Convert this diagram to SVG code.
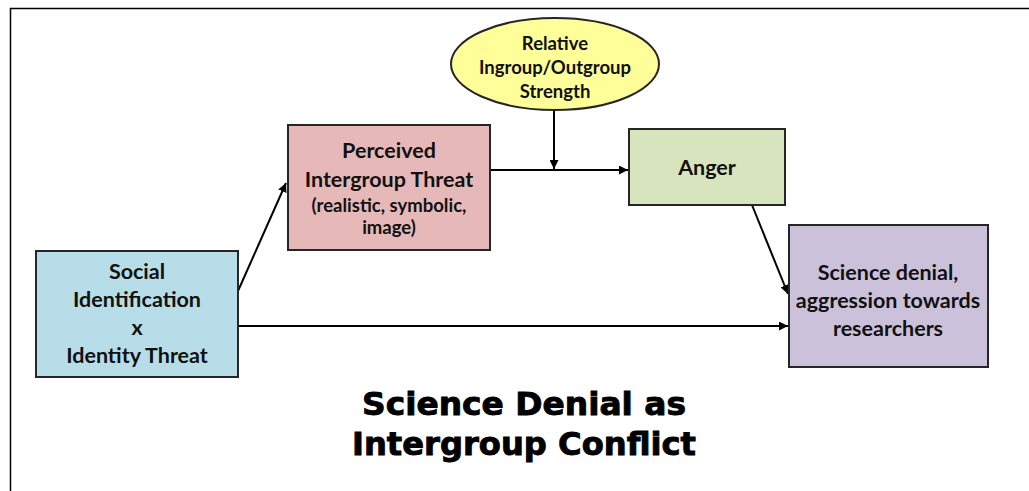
<svg xmlns="http://www.w3.org/2000/svg" width="1029" height="491" viewBox="0 0 1029 491">
<style>
.box{stroke:#262626;stroke-width:2}
.t{font-family:Lato,"Liberation Sans",sans-serif;font-weight:bold;fill:#111;text-anchor:middle}
.c{stroke:#000;stroke-width:2;fill:none}
.title{font-family:"DejaVu Sans","Liberation Sans",sans-serif;font-weight:bold;font-size:32px;fill:#000;stroke:#000;stroke-width:0.9;text-anchor:middle}
</style>
<defs>
<marker id="ah" viewBox="0 0 10 10" refX="10" refY="5" markerWidth="4.5" markerHeight="4.5" orient="auto" markerUnits="strokeWidth">
<path d="M0,0 L10,5 L0,10 z" fill="#000"/>
</marker>
</defs>
<rect x="0" y="0" width="1029" height="491" fill="#fff"/>
<path d="M10.5,491 V8.5 H1029" fill="none" stroke="#000" stroke-width="1.5"/>
<g id="connectors">
<line class="c" x1="238" y1="291" x2="286" y2="183" marker-end="url(#ah)"/>
<line class="c" x1="490" y1="170" x2="628" y2="170" marker-end="url(#ah)"/>
<line class="c" x1="554" y1="110" x2="554" y2="169" stroke-width="1.6" marker-end="url(#ah)"/>
<line class="c" x1="752" y1="205" x2="788" y2="294" marker-end="url(#ah)"/>
<line class="c" x1="238" y1="326" x2="788" y2="326" marker-end="url(#ah)"/>
</g>
<g id="node-social">
<rect class="box" x="36" y="251" width="202" height="126" fill="#b7dde8"/>
<text class="t" font-size="21.5" x="137" y="279">Social</text>
<text class="t" font-size="21.5" x="137" y="307">Identification</text>
<text class="t" font-size="21.5" x="137" y="335">x</text>
<text class="t" font-size="21.5" x="137" y="363">Identity Threat</text>
</g>
<g id="node-threat">
<rect class="box" x="288" y="125" width="202" height="125" fill="#e6b9b8"/>
<text class="t" font-size="21.5" x="389" y="158">Perceived</text>
<text class="t" font-size="21.5" x="389" y="187">Intergroup Threat</text>
<text class="t" font-size="18.5" x="389" y="212">(realistic, symbolic,</text>
<text class="t" font-size="18.5" x="389" y="234">image)</text>
</g>
<g id="node-strength">
<ellipse class="box" cx="555" cy="64" rx="104" ry="46" fill="#ffff99"/>
<text class="t" font-size="18.5" x="555" y="50">Relative</text>
<text class="t" font-size="18.5" x="555" y="74">Ingroup/Outgroup</text>
<text class="t" font-size="18.5" x="555" y="98">Strength</text>
</g>
<g id="node-anger">
<rect class="box" x="629" y="129" width="156" height="76" fill="#d7e4bd"/>
<text class="t" font-size="21.5" x="707" y="175">Anger</text>
</g>
<g id="node-outcome">
<rect class="box" x="789" y="225" width="199" height="142" fill="#ccc1da"/>
<text class="t" font-size="21.5" x="888" y="280">Science denial,</text>
<text class="t" font-size="21.5" x="888" y="308">aggression towards</text>
<text class="t" font-size="21.5" x="888" y="336">researchers</text>
</g>
<g id="title">
<text class="title" x="524" y="415" textLength="324" lengthAdjust="spacingAndGlyphs">Science Denial as</text>
<text class="title" x="524" y="455" textLength="344" lengthAdjust="spacingAndGlyphs">Intergroup Conflict</text>
</g>
</svg>
